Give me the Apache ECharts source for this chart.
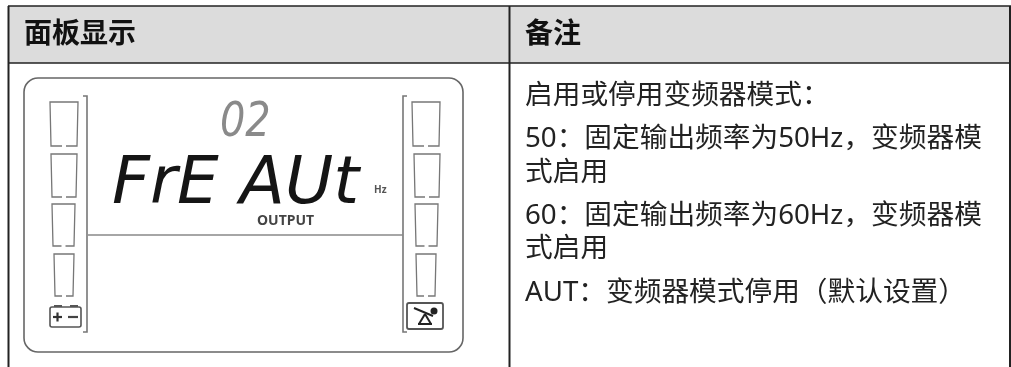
<!DOCTYPE html>
<html>
<head>
<meta charset="utf-8">
<script src="https://cdn.jsdelivr.net/npm/echarts@6/dist/echarts.min.js"></script>
<style>html,body{margin:0;padding:0;background:#fff}#main{width:1011px;height:367px}</style>
</head>
<body>
<div id="main"></div>
<script>
const headers = ['面板显示', '备注'];
const notes = [
  '启用或停用变频器模式\uFF1A',
  '50\uFF1A固定输出频率为50Hz\uFF0C变频器模',
  '式启用',
  '60\uFF1A固定输出频率为60Hz\uFF0C变频器模',
  '式启用',
  'AUT\uFF1A变频器模式停用\uFF08默认设置\uFF09'
];
const noteY = [96, 139, 173, 216, 249, 293];
const lcdTop = '02';
const lcdMain = 'FrE AUt';
const lcdUnit = 'Hz';
const lcdLabel = 'OUTPUT';

const FONT = '"Noto Sans","Noto Sans CJK SC",sans-serif';
const LCD_FONT = '"DejaVu Sans"';
const LINE = '#777';
const els = [];

function line(x1, y1, x2, y2, stroke, w) {
  els.push({ type: 'line', shape: { x1, y1, x2, y2 }, style: { stroke, lineWidth: w } });
}
function text(x, y, t, size, color, weight) {
  els.push({
    type: 'text', x, y,
    style: { text: t, fontFamily: FONT, fontSize: size, fill: color, fontWeight: weight || 'normal', textVerticalAlign: 'middle' }
  });
}
function lcdText(x, y, t, size, color, scaleX) {
  els.push({
    type: 'text', x, y, scaleX,
    style: { text: t, fontFamily: LCD_FONT, fontStyle: 'italic', fontSize: size, fill: color, textVerticalAlign: 'middle' }
  });
}
// level cell with a small gap in the bottom edge
function cell(x, y, w, h) {
  const m = x + w / 2;
  els.push({
    type: 'polyline',
    shape: { points: [[m - 2, y + h], [x + 1, y + h], [x, y], [x + w, y], [x + w - 1, y + h], [m + 2, y + h]] },
    style: { stroke: LINE, lineWidth: 1.3, fill: null }
  });
}
function bracket(x, dir) {
  els.push({
    type: 'polyline',
    shape: { points: [[x - 4 * dir, 96], [x, 96], [x, 332], [x - 4 * dir, 332]] },
    style: { stroke: LINE, lineWidth: 1.6, fill: null }
  });
}

// table
els.push({ type: 'rect', shape: { x: 8, y: 6, width: 1002, height: 57 }, style: { fill: '#dcdcdc' } });
line(8, 6, 1011, 6, '#222', 1.5);
line(8, 63, 1011, 63, '#222', 1.5);
line(8.5, 6, 8.5, 367, '#222', 2);
line(509.5, 6, 509.5, 367, '#222', 2);
line(1010, 6, 1010, 367, '#222', 2);
text(24, 35, headers[0], 28, '#111', 'bold');
text(525, 35, headers[1], 28, '#111', 'bold');
notes.forEach(function (n, i) { text(525, noteY[i], n, 27.7, '#222'); });

// panel
els.push({ type: 'rect', shape: { x: 24, y: 78, width: 439, height: 274, r: 14 }, style: { fill: '#fff', stroke: '#666', lineWidth: 1.6 } });
bracket(87, 1);
bracket(403, -1);
line(88, 235, 403, 235, '#888', 1.5);
[[50, 412, 28, 102, 44], [51, 414, 26, 154, 43], [52, 415, 23, 204, 42], [54, 416, 20, 254, 42]].forEach(function (c) {
  cell(c[0], c[3], c[2], c[4]);
  cell(c[1], c[3], c[2], c[4]);
});

// battery icon
els.push({ type: 'rect', shape: { x: 50, y: 307, width: 31, height: 20, r: 2 }, style: { fill: '#fff', stroke: '#555', lineWidth: 1.6 } });
line(54, 306, 62, 306, '#555', 2);
line(70, 306, 78, 306, '#555', 2);
line(53, 317, 62, 317, '#333', 2.2);
line(57.5, 312.5, 57.5, 321.5, '#333', 2.2);
line(68, 317, 78, 317, '#444', 2.2);
// load icon
els.push({ type: 'rect', shape: { x: 407, y: 303, width: 36, height: 26, r: 2 }, style: { fill: '#fff', stroke: '#555', lineWidth: 1.8 } });
line(414, 308, 433, 316, '#222', 2);
line(425, 314, 419, 324, '#222', 2);
line(425, 314, 431, 324, '#222', 2);
line(418, 324, 432, 324, '#222', 2);
els.push({ type: 'circle', shape: { cx: 434, cy: 311, r: 3.5 }, style: { fill: '#222' } });

// lcd text
lcdText(220, 124, lcdTop, 48, '#8a8a8a', 0.83);
lcdText(112, 186, lcdMain, 66, '#151515', 1.0);
text(374, 190, lcdUnit, 10, '#555', 'bold');
text(257, 221, lcdLabel, 14, '#444', 'bold');

const chart = echarts.init(document.getElementById('main'));
chart.setOption({ animation: false, graphic: { elements: els } });
</script>
</body>
</html>
